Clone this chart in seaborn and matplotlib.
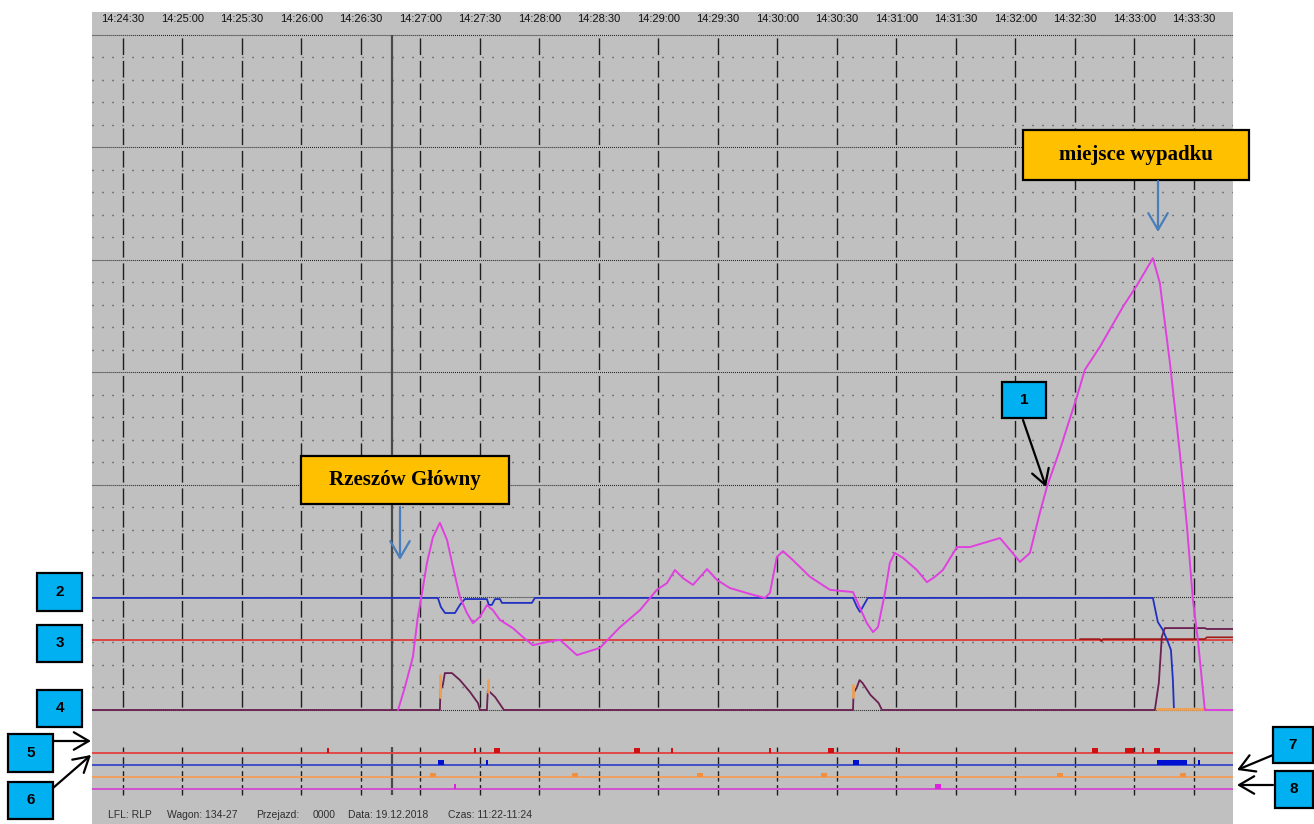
import numpy as np
import pandas as pd
import matplotlib
matplotlib.use("Agg")
import matplotlib.pyplot as plt
import matplotlib.transforms as mtransforms
from matplotlib.patches import Rectangle, FancyArrowPatch
import seaborn as sns

W, H = 1314, 824

# time axis in seconds after 14:24:00
t_start, t_end = 14.4, 589.7
tick_t = list(range(30, 571, 30))
tick_labels = [f"14:{24 + t // 60:02d}:{t % 60:02d}" for t in tick_t]
cursor_t = 165.5
KMH_PER_DIV = 5  # speed scale, one grid division = 5 km/h (pressures: 1 div = 1 bar)

# 1 - speed [km/h]
speed_t = [168.7, 172.2, 176.2, 178.7, 180.8, 183.3, 186.3, 189.8, 193.4, 196.4,
           199.9, 203.4, 206.5, 210.0, 213.5, 216.5, 220.1, 226.6, 231.7, 236.7,
           243.8, 250.3, 258.9, 270.5, 280.6, 290.7, 299.2, 304.3, 308.3, 312.4,
           317.4, 324.5, 329.5, 336.0, 347.6, 353.7, 356.2, 359.7, 362.8, 367.8,
           376.4, 386.5, 398.1, 401.6, 405.1, 408.2, 410.7, 414.2, 416.7, 419.2,
           423.3, 430.3, 435.4, 439.4, 443.4, 450.5, 457.0, 472.2, 477.2, 482.3,
           487.3, 492.3, 495.9, 502.4, 511.0, 515.0, 522.6, 534.2, 541.3, 549.3,
           552.8, 557.9, 562.9, 566.5, 569.5, 572.0, 575.5, 589.7]
speed_kmh = [0, 5.1, 11.8, 20.7, 26.0, 32.7, 38.4, 41.6, 37.8, 31.8,
             25.1, 21.6, 19.3, 20.7, 23.3, 22.2, 20.0, 18.2, 16.2, 14.4,
             15.1, 15.6, 12.2, 13.8, 18.4, 22.2, 26.7, 28.2, 31.1, 29.3,
             27.8, 31.3, 28.9, 27.1, 25.6, 24.9, 26.0, 34.0, 35.3, 33.3,
             29.6, 26.7, 26.2, 22.7, 19.3, 17.3, 18.4, 26.0, 32.7, 34.9,
             33.8, 31.1, 28.4, 29.6, 31.1, 36.2, 36.2, 38.2, 35.6, 32.9,
             34.9, 43.8, 49.6, 57.8, 69.6, 75.6, 80.7, 89.6, 94.4, 100.4,
             94.9, 77.1, 57.1, 40.7, 24.4, 15.6, 0, 0]

# 2 - main pipe pressure [bar]
pipe_t = [14.4, 188.8, 190.3, 192.4, 197.4, 199.9, 202.4, 213.5, 214.5, 216.0,
          217.6, 220.1, 221.1, 236.2, 237.7, 398.1, 400.1, 401.6, 403.6, 405.6,
          549.3, 551.8, 554.3, 556.9, 558.4, 559.4, 559.9]
pipe_bar = [4.98, 4.98, 4.58, 4.31, 4.31, 4.67, 4.93, 4.93, 4.67, 4.67,
            4.93, 4.93, 4.76, 4.76, 4.98, 4.98, 4.58, 4.36, 4.67, 4.98,
            4.98, 3.91, 3.56, 3.02, 2.67, 1.33, 0.09]

# 3 - reference line and second cylinder trace
ref_t = [t_start, t_end]
ref_v = [3.11, 3.11]
cyl2_t = [512.5, 522.6, 523.3, 524.1, 575.5, 576.5, 589.7]
cyl2_v = [3.15, 3.15, 3.05, 3.15, 3.15, 3.23, 3.23]

# 4 - brake cylinder pressure [bar]
cyl_t = [14.4, 189.8, 190.1, 191.3, 192.3, 195.9, 199.9, 205.0, 209.0, 210.0,
         213.5, 214.0, 215.0, 217.6, 222.1, 398.1, 398.4, 399.9, 401.4, 402.9,
         406.9, 411.0, 412.7, 550.3, 552.3, 553.8, 555.3, 575.5, 576.5, 589.7]
cyl_bar = [0, 0, 0.89, 1.11, 1.64, 1.64, 1.33, 0.80, 0.31, 0,
           0, 0.89, 0.80, 0.58, 0, 0, 0.76, 0.98, 1.33, 1.20,
           0.67, 0.31, 0, 0, 1.2, 3.24, 3.64, 3.64, 3.60, 3.60]

# orange trace (short pulses)
pulse_t = [[189.8, 189.8], [214.0, 214.0], [398.1, 398.1], [551.3, 576.0]]
pulse_v = [[0.58, 1.56], [0.80, 1.33], [0.58, 1.11], [0.04, 0.04]]

# binary signals in the lower strip: (times, widths)
strip_y = [-1.91, -2.44, -2.98, -3.51]
strip_line_colors = ["#e04848", "#4050c8", "#f0a060", "#d050d0"]
strip_mark_colors = ["#d01010", "#0010d0", "#f09040", "#e020e0"]
sig_red_t = [133.4, 207.5, 218.6, 289.2, 306.8, 356.2, 387.0, 421.3, 520.1, 537.7, 544.3, 551.3]
sig_red_w = [0.8, 0.8, 3.0, 3.0, 0.8, 0.8, 3.0, 0.8, 3.0, 4.5, 0.8, 3.0]
sig_blue_t = [190.3, 213.5, 399.6, 558.9, 572.5]
sig_blue_w = [3.0, 0.8, 3.0, 15.1, 0.8]
sig_orange_t = [186.3, 257.9, 320.9, 383.4, 502.4, 564.4]
sig_orange_w = [3.0, 3.0, 3.0, 3.0, 3.0, 3.0]
sig_mag_t = [197.4, 440.9]
sig_mag_w = [0.8, 3.0]

info_texts = ["LFL: RLP", "Wagon: 134-27", "Przejazd:", "0000", "Data: 19.12.2018", "Czas: 11:22-11:24"]
info_x = [108, 167, 256, 313, 348, 448]

sns.set_theme(style="white", rc={"axes.facecolor": "#c0c0c0", "figure.facecolor": "white",
                                 "lines.scale_dashes": False})
plt.rcParams["font.family"] = ["Liberation Sans", "DejaVu Sans"]

fig = plt.figure(figsize=(W / 100, H / 100), dpi=100)
ax = fig.add_axes([92 / W, 0, (1233 - 92) / W, 1 - 12 / H])
ax.set_xlim(t_start, t_end)
ax.set_ylim(-5.067, 31.02)
for s in ax.spines.values():
    s.set_visible(False)

# grid
rows = np.arange(0, 31)
ax.hlines(rows[rows % 5 != 0], t_start, t_end, colors="#333333", linewidth=1.0,
          linestyles=[(0, (0.75, 6.45))], zorder=1)
ax.hlines(rows[rows % 5 == 0], t_start, t_end, colors="#222222", linewidth=0.8,
          linestyles=[(0, (0.7, 0.75))], zorder=1)
ax.vlines(tick_t, 0, 30, colors="#1e1e1e", linewidth=1.0,
          linestyles=[(14.1, (12.0, 4.2))], zorder=1.5)
ax.vlines(tick_t, -3.78, -1.64, colors="#1e1e1e", linewidth=1.0,
          linestyles=[(0, (7.5, 2.5))], zorder=1.5)
ax.vlines([cursor_t], 0, 30, colors="#4a4a4a", linewidth=1.6, zorder=1.6)
ax.vlines([cursor_t], -3.78, -1.64, colors="#4a4a4a", linewidth=1.6, zorder=1.6)

# lower strip
ax.hlines(strip_y, t_start, t_end, colors=strip_line_colors, linewidth=1.4, zorder=2)
for base, ts, ws, c in zip(strip_y,
                           [sig_red_t, sig_blue_t, sig_orange_t, sig_mag_t],
                           [sig_red_w, sig_blue_w, sig_orange_w, sig_mag_w],
                           strip_mark_colors):
    ax.bar(ts, 0.2, width=ws, bottom=base, color=c, linewidth=0, zorder=3)

# traces
sns.lineplot(x=ref_t, y=ref_v, estimator=None, sort=False, color="#e03c3c", lw=1.3, ax=ax, zorder=3)
sns.lineplot(x=cyl2_t, y=cyl2_v, estimator=None, sort=False, color="#a01818", lw=1.2, ax=ax, zorder=3.1)
sns.lineplot(x=pipe_t, y=pipe_bar, estimator=None, sort=False, color="#2030c0", lw=1.3, ax=ax, zorder=3.2)
sns.lineplot(x=cyl_t, y=cyl_bar, estimator=None, sort=False, color="#6a2050", lw=1.3, ax=ax, zorder=3.3)
pulses = pd.concat([pd.DataFrame({"t": t, "v": v, "seg": i})
                    for i, (t, v) in enumerate(zip(pulse_t, pulse_v))], ignore_index=True)
sns.lineplot(data=pulses, x="t", y="v", units="seg", estimator=None, sort=False,
             color="#f0a050", lw=2.0, ax=ax, zorder=3.4)
sns.lineplot(x=speed_t, y=np.array(speed_kmh) / KMH_PER_DIV, estimator=None, sort=False,
             color="#e040e0", lw=1.4, ax=ax, zorder=4)

ax.set_xlabel("")
ax.set_ylabel("")
ax.set_yticks([])
ax.set_xticks(tick_t)
ax.set_xticklabels(tick_labels)
ax.xaxis.tick_top()
ax.tick_params(axis="x", length=0, pad=-8.6, labelsize=8, labelcolor="#111111")

# annotations in pixel coordinates
px = mtransforms.Affine2D().scale(1 / W, -1 / H).translate(0, 1) + fig.transFigure


def box(x0, y0, x1, y1, fc, label, **kw):
    fig.add_artist(Rectangle((x0, y0), x1 - x0, y1 - y0, transform=px, facecolor=fc,
                             edgecolor="black", linewidth=1.6, zorder=5))
    fig.text((x0 + x1) / 2, (y0 + y1) / 2, label, transform=px, ha="center", va="center",
             zorder=6, **kw)


def arrow(a, b, color="black", ms=18):
    fig.add_artist(FancyArrowPatch(a, b, transform=px, arrowstyle="->,head_length=0.6,head_width=0.35",
                                   mutation_scale=ms, color=color, lw=1.6, shrinkA=0, shrinkB=0,
                                   zorder=6))


serif = dict(fontsize=15, fontweight="bold", family=["Liberation Serif", "DejaVu Serif"], color="black")
num = dict(fontsize=11, fontweight="bold", family=["Liberation Sans", "DejaVu Sans"], color="black")

box(301, 456, 509, 504, "#ffc000", "Rzeszów Główny", **serif)
box(1023, 130, 1249, 180, "#ffc000", "miejsce wypadku", **serif)
arrow((400, 507), (400, 560), color="#4a7ebb", ms=20)
arrow((1158, 181), (1158, 232), color="#4a7ebb", ms=20)

for (x0, y0, x1, y1), lab in zip([(1002, 382, 1046, 418), (37, 573, 82, 611), (37, 625, 82, 662),
                                  (37, 690, 82, 727), (8, 734, 53, 772), (8, 782, 53, 819),
                                  (1273, 727, 1313, 763), (1275, 771, 1313, 808)],
                                 ["1", "2", "3", "4", "5", "6", "7", "8"]):
    box(x0, y0, x1, y1, "#00b0f0", lab, **num)

arrow((1023, 420), (1046, 487))
arrow((53, 741), (91, 741))
arrow((53, 788), (91, 755))
arrow((1273, 755), (1237, 770))
arrow((1273, 785), (1237, 785))

for s, x in zip(info_texts, info_x):
    fig.text(x, 815, s, transform=px, ha="left", va="center", fontsize=7.5, color="#303030")

fig.savefig("out.png", dpi=100)
